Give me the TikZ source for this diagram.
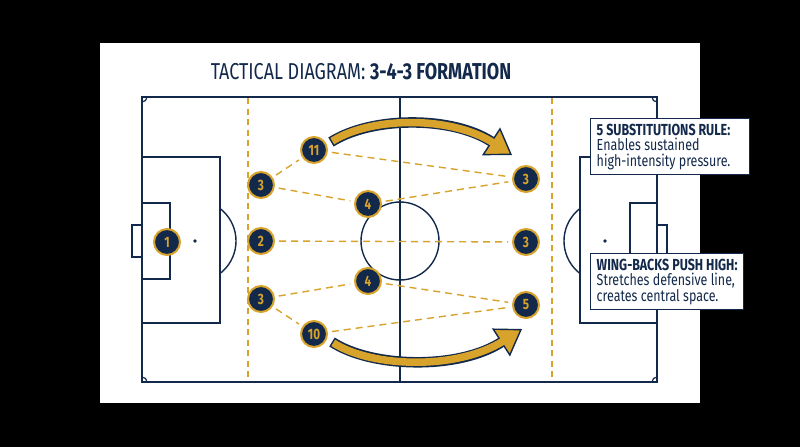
\documentclass[tikz,border=0pt]{standalone}
\usepackage{fontspec}
\setmainfont{Fira Sans}[FakeStretch=0.78]
\usetikzlibrary{arrows.meta,calc,positioning}
\definecolor{navy}{HTML}{13294B}
\definecolor{gold}{HTML}{D8A32A}
\tikzset{
    x=1pt, y=-1pt,
    pitch/.style = {draw=navy, line width=1.4pt},
    player/.style = {circle, fill=navy, draw=gold, line width=2pt, minimum size=26pt, inner sep=0pt,
                     text=gold, font=\fontsize{15}{15}\selectfont\bfseries},
    link/.style = {draw=gold, dash pattern=on 7pt off 5pt, line width=1.4pt, shorten <=4pt, shorten >=4pt},
    note/.style = {draw=navy, fill=white, line width=1.4pt, align=flush left, anchor=north west,
                   text=navy, font=\fontsize{16}{15.5}\selectfont, inner xsep=6pt, inner ysep=5pt},
    runline/.style = {draw=navy, line width=10.5pt, -{Triangle[length=25pt, width=33pt, fill=gold, line width=1.4pt]}},
    runfill/.style = {draw=gold, line width=7.5pt, shorten <=1.5pt, shorten >=22pt}
}

\begin{document}
\begin{tikzpicture}
    \useasboundingbox (0,0) rectangle (800,447);
    \fill[black] (0,0) rectangle (800,447);
    \fill[white] (100,43) rectangle (700,403);

    % Title
    \node[text=navy, font=\fontsize{23}{23}\selectfont] (title) at (361,72) {TACTICAL DIAGRAM: \textbf{3-4-3 FORMATION}};

    %% Pitch
    \draw[pitch] (142,97) rectangle (657,382);
    \draw[pitch] (400,97) -- (400,382);
    \draw[pitch] (400,241) circle (39pt);
    \fill[navy] (400,241) circle (1.5pt);
    % left end
    \draw[pitch] (142,157) rectangle (220,323);
    \draw[pitch] (142,203) rectangle (170,279);
    \draw[pitch] (132,225) rectangle (142,257);
    \fill[navy] (195,241) circle (1.8pt);
    \begin{scope}
        \clip (220,150) rectangle (260,330);
        \draw[pitch] (195,241) circle (41pt);
    \end{scope}
    % right end
    \draw[pitch] (580,157) rectangle (657,323);
    \draw[pitch] (630,203) rectangle (657,279);
    \draw[pitch] (657,225) rectangle (667,257);
    \fill[navy] (605,241) circle (1.8pt);
    \begin{scope}
        \clip (540,150) rectangle (580,330);
        \draw[pitch] (605,241) circle (41pt);
    \end{scope}
    % corners
    \begin{scope}
        \clip (142,97) rectangle (657,382);
        \foreach \cx/\cy in {142/97, 657/97, 142/382, 657/382}
            \draw[navy, line width=1.2pt] (\cx,\cy) circle (5pt);
    \end{scope}
    % thirds
    \draw[gold, dash pattern=on 6pt off 4.5pt, line width=1.3pt] (248,98) -- (248,381);
    \draw[gold, dash pattern=on 6pt off 4.5pt, line width=1.3pt] (552,98) -- (552,381);

    % Runs
    \coordinate (r1s) at (331,142);
    \coordinate (r1e) at (512,155);
    \coordinate (r2s) at (332,342);
    \coordinate (r2e) at (522,329);
    \path[runline] (r1s) .. controls (372,116) and (452,116) .. (r1e);
    \path[runfill] (r1s) .. controls (372,116) and (452,116) .. (r1e);
    \path[runline] (r2s) .. controls (372,368) and (458,370) .. (r2e);
    \path[runfill] (r2s) .. controls (372,368) and (458,370) .. (r2e);

    %% Nodes
    \node[player] (n1) at (167,242) {1};
    \node[player] (n2) at (261,241) {2};
    \node[player] (n3a) at (261,185) {3};
    \node[player] (n3b) at (261,299) {3};
    \node[player] (n11) at (314,150) {11};
    \node[player] (n10) at (314,334) {10};
    \node[player] (n4a) at (368,204) {4};
    \node[player] (n4b) at (368,281) {4};
    \node[player] (n3c) at (526,179) {3};
    \node[player] (n3d) at (526,242) {3};
    \node[player] (n5) at (526,305) {5};

    % Links
    \path (n3a) edge[link] (n11);
    \path (n3a) edge[link] (n4a);
    \path (n11) edge[link] (n3c);
    \path (n4a) edge[link] (n3c);
    \path (n2) edge[link] (n3d);
    \path (n3b) edge[link] (n4b);
    \path (n3b) edge[link] (n10);
    \path (n4b) edge[link] (n5);
    \path (n10) edge[link] (n5);

    % Notes
    \node[note, text width=147pt] (subs) at (590,118) {\textbf{5 SUBSTITUTIONS RULE:}\\Enables sustained\\high-intensity pressure.};
    \node[note] (wing) at (590,253) {\textbf{WING-BACKS PUSH HIGH:}\\Stretches defensive line,\\creates central space.};
\end{tikzpicture}
\end{document}
